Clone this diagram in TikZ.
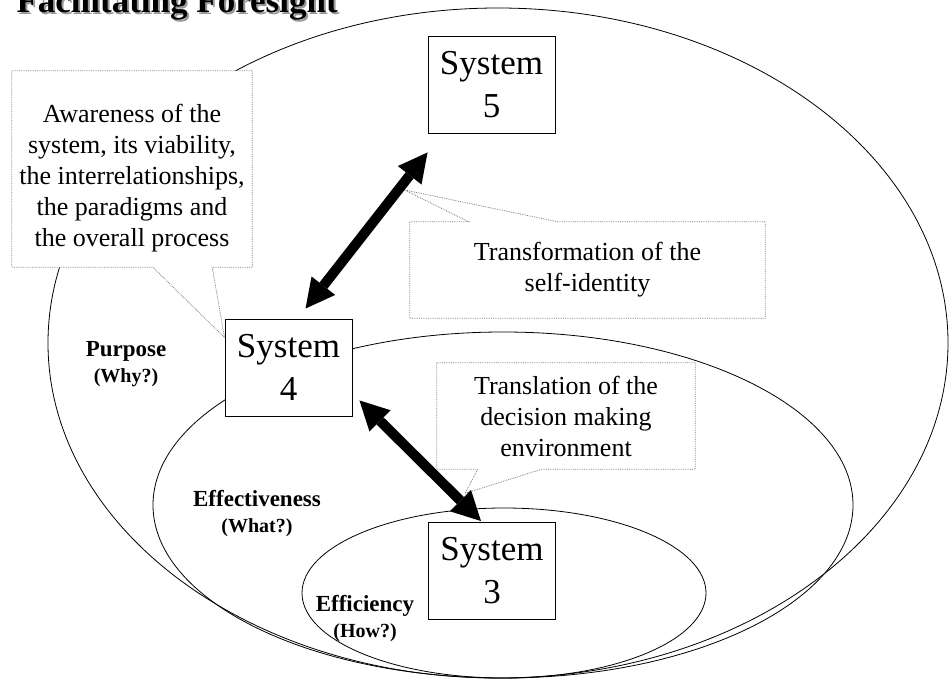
\documentclass[tikz,border=0pt]{standalone}
\usepackage{fontspec}
\setmainfont{Liberation Serif}
\usetikzlibrary{arrows.meta,backgrounds}

\tikzset{
  sysbox/.style = {draw, fill=white, line width=0.9pt, minimum width=127pt,
    minimum height=97pt, align=center, font=\fontsize{35}{43}\selectfont},
  notebox/.style = {inner sep=2pt, align=center, font=\fontsize{26}{31}\selectfont},
  noteline/.style = {draw=gray, densely dotted, line width=0.8pt, fill=white},
  tier/.style = {align=center, font=\bfseries\fontsize{23}{26}\selectfont},
  ring/.style = {line width=0.8pt},
  bigarrow/.style = {line width=10pt,
    {Triangle[length=29pt,width=30pt,line width=0pt]}-{Triangle[length=29pt,width=30pt,line width=0pt]}}
}

\begin{document}
\begin{tikzpicture}[x=1pt, y=-1pt]
  \useasboundingbox (0,0) rectangle (949,679);
  \clip (0,0) rectangle (949,679);

  \node[anchor=base west, text=black!40, font=\bfseries\fontsize{35}{40}\selectfont]
    (titleshadow) at (15,15) {Facilitating Foresight};
  \node[anchor=base west, font=\bfseries\fontsize{35}{40}\selectfont]
    (title) at (13,13) {Facilitating Foresight};

  \node[sysbox] (s5) at (491.5,84.5) {System\\5};
  \node[sysbox] (s4) at (288.5,367.5) {System\\4};
  \node[sysbox] (s3) at (492,571) {System\\3};

  \node[notebox, minimum width=240pt, minimum height=196pt] (aware) at (132,169)
    {\rule{0pt}{36pt}Awareness of the\\system, its viability,\\the interrelationships,\\the paradigms and\\the overall process};
  \node[notebox, minimum width=355pt, minimum height=96pt] (transform) at (587.5,270)
    {Transformation of the\\self-identity};
  \node[notebox, minimum width=258pt, minimum height=106pt] (translate) at (566,416)
    {Translation of the\\decision making\\environment};

  \node[tier] (purpose) at (126,364) {Purpose\\{\fontsize{20}{26}\selectfont (Why?)}};
  \node[tier] (effect) at (257,514) {Effectiveness\\{\fontsize{20}{26}\selectfont (What?)}};
  \node[tier] (effic) at (365,619) {Efficiency\\{\fontsize{20}{26}\selectfont (How?)}};

  \draw[bigarrow] ([xshift=17pt,yshift=10pt]s4.north)
    -- coordinate[pos=0.76] (tftip) ([yshift=-19pt]s5.south west);
  \draw[bigarrow] ([xshift=7pt,yshift=16pt]s4.south east)
    -- coordinate[pos=0.77] (trtip) ([xshift=-11pt,yshift=1pt]s3.north);

  % nested rings and callout outlines go behind
  \begin{scope}[on background layer]
    \draw[ring] (498,343) ellipse [x radius=450pt, y radius=335pt];
    \draw[ring] (503,505) ellipse [x radius=350pt, y radius=173pt];
    \draw[ring] (504,593) ellipse [x radius=202pt, y radius=85pt];

    \draw[noteline] (aware.north west) -- (aware.north east) -- (aware.south east)
      -- ([xshift=-40pt]aware.south east) -- ([yshift=-19pt]s4.north west)
      -- ([xshift=141pt]aware.south west) -- (aware.south west) -- cycle;
    \draw[noteline] (transform.south west) -- (transform.north west)
      -- ([xshift=59pt]transform.north west) -- ([xshift=6pt]tftip)
      -- ([xshift=148pt]transform.north west) -- (transform.north east)
      -- (transform.south east) -- cycle;
    \draw[noteline] (translate.north west) -- (translate.north east) -- (translate.south east)
      -- ([xshift=105pt]translate.south west) -- ([xshift=12pt]trtip)
      -- ([xshift=41pt]translate.south west) -- (translate.south west) -- cycle;
  \end{scope}
\end{tikzpicture}
\end{document}
